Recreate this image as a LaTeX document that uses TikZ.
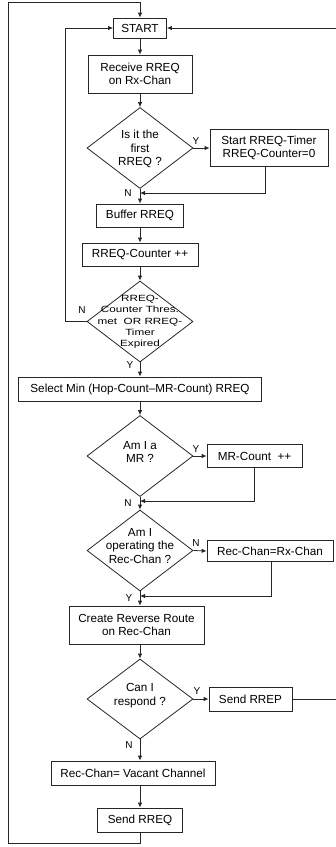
\documentclass[tikz,border=0pt]{standalone}
\usepackage{fontspec}
\setmainfont{Liberation Sans}
\newfontfamily\widefont[FakeStretch=1.3]{Liberation Sans}
\usetikzlibrary{shapes.geometric,arrows.meta}

\tikzset{
  box/.style={draw=black!85, line width=0.8pt, rectangle, align=center, inner sep=0pt, font=\fontsize{11.7}{13.3}\selectfont},
  dec/.style={draw=black!85, line width=0.8pt, diamond, inner sep=0pt, minimum width=106pt, minimum height=81pt},
  dectext/.style={align=center, inner sep=0pt, font=\fontsize{11.7}{13.3}\selectfont},
  yn/.style={inner sep=0pt, font=\fontsize{10}{12}\selectfont},
  flow/.style={draw=black!85, line width=0.8pt, ->},
}

\begin{document}
\begin{tikzpicture}[x=1pt,y=-1pt,>={Latex[length=5pt,width=4.5pt]}]
  \useasboundingbox (0,0) rectangle (336,847);
  % main column
  \node[box, minimum width=53pt, minimum height=20pt] (start) at (140,28) {START};
  \node[box, minimum width=104pt, minimum height=38pt] (recv) at (140,74) {Receive RREQ\\on Rx-Chan};
  \node[dec] (first) at (140,148) {};
  \node[dectext] (firsttxt) at (140,149) {Is it the\\first\\RREQ ?};
  \node[box, minimum width=118pt, minimum height=37pt] (timer) at (269,148) {Start RREQ-Timer\\RREQ-Counter=0};
  \node[box, minimum width=87pt, minimum height=23pt] (buffer) at (140,215.5) {Buffer RREQ};
  \node[box, minimum width=116pt, minimum height=23pt] (counter) at (140,254.5) {RREQ-Counter ++};
  \node[dec] (thres) at (140,321.5) {};
  \node[dectext, font=\widefont\fontsize{9}{11.3}\selectfont] (threstxt) at (140,322) {RREQ-\\Counter Thres.\\met~ OR RREQ-\\Timer\\Expired};
  \node[box, minimum width=243pt, minimum height=24pt] (select) at (140,389) {Select Min (Hop-Count--MR-Count) RREQ};
  \node[dec] (mr) at (140,456) {};
  \node[dectext] (mrtxt) at (140,452) {Am I a\\MR ?};
  \node[box, minimum width=95pt, minimum height=23pt] (mrcount) at (254.5,456) {MR-Count ~++};
  \node[dec] (oper) at (140,550.5) {};
  \node[dectext] (opertxt) at (140,546) {Am I\\operating the\\Rec-Chan ?};
  \node[box, minimum width=126pt, minimum height=21pt] (recchan) at (270,551) {Rec-Chan=Rx-Chan};
  \node[box, minimum width=135pt, minimum height=38pt] (create) at (136.5,625) {Create Reverse Route\\on Rec-Chan};
  \node[dec, minimum height=80pt] (respond) at (140,699) {};
  \node[dectext] (respondtxt) at (140,695.5) {Can I\\respond ?};
  \node[box, minimum width=83pt, minimum height=24pt] (rrep) at (250.5,699) {Send RREP};
  \node[box, minimum width=164pt, minimum height=24pt] (vacant) at (133,773) {Rec-Chan= Vacant Channel};
  \node[box, minimum width=85pt, minimum height=24pt] (sendreq) at (140,820) {Send RREQ};

  % merge points
  \coordinate (m1) at (140,193);
  \coordinate (m2) at (140,501);
  \coordinate (m3) at (140,596);

  % connectors
  \draw[flow] (start) -- (recv);
  \draw[flow] (recv) -- (first);
  \draw[flow] (first.east) -- (timer.west);
  \draw[flow] (first.south) -- (buffer.north);
  \draw[flow] ([xshift=-4pt]timer.south) |- (m1);
  \draw[flow] (buffer) -- (counter);
  \draw[flow] (counter) -- (thres);
  \draw[flow] (thres.west) -- ++(-21,0) |- (start.west);
  \draw[flow] (thres.south) -- (select.north);
  \draw[flow] (select) -- (mr);
  \draw[flow] (mr.east) -- (mrcount.west);
  \draw[flow] (mr.south) -- (oper.north);
  \draw[flow] (mrcount.south) |- (m2);
  \draw[flow] (oper.east) -- (recchan.west);
  \draw[flow] (oper.south) -- (oper.south |- create.north);
  \draw[flow] ([xshift=1pt]recchan.south) |- (m3);
  \draw[flow] (create.south -| respond.north) -- (respond.north);
  \draw[flow] (respond.east) -- (rrep.west);
  \draw[flow] (rrep.east) -- ++(46,0) |- (start.east);
  \draw[flow] (respond.south) -- (respond.south |- vacant.north);
  \draw[flow] (vacant.south -| sendreq.north) -- (sendreq.north);
  \draw[flow] (sendreq.south) -- ++(0,11) -| (8,2) -| (start.north);

  % branch labels
  \node[yn] (y1) at (196,141) {Y};
  \node[yn] (n1) at (128,193) {N};
  \node[yn] (n2) at (82,310) {N};
  \node[yn] (y2) at (130,365) {Y};
  \node[yn] (y3) at (196,449) {Y};
  \node[yn] (n3) at (128,503) {N};
  \node[yn] (n4) at (196,543) {N};
  \node[yn] (y4) at (129,598) {Y};
  \node[yn] (y5) at (197,691) {Y};
  \node[yn] (n5) at (129,745) {N};
\end{tikzpicture}
\end{document}
